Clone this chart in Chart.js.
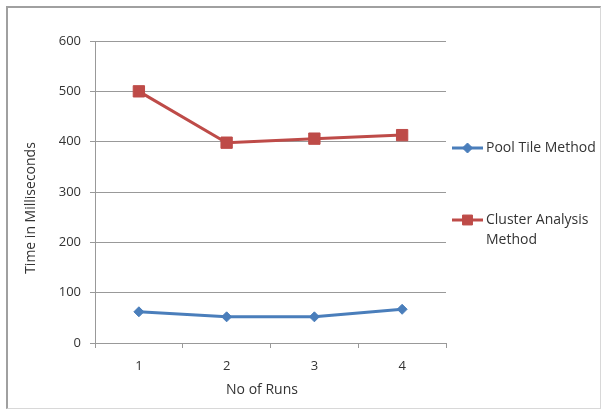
<!DOCTYPE html>
<html>
<head>
<meta charset="utf-8">
<script src="https://cdn.jsdelivr.net/npm/chart.js@4.4.1/dist/chart.umd.min.js"></script>
<style>
  body { margin: 0; background: #fff; }
  #wrap { position: relative; width: 606px; height: 409px; }
  #frame {
    position: absolute; left: 6px; top: 6px; width: 592px; height: 400px;
    border-top: 2px solid #a0a0a0; border-left: 2px solid #a0a0a0;
    border-right: 1px solid #d8d8d8; border-bottom: 1px solid #d8d8d8;
    pointer-events: none;
  }
</style>
</head>
<body>
<div id="wrap">
  <canvas id="runsChart" width="606" height="409"></canvas>
  <div id="frame"></div>
</div>
<script>
// data
const runLabels = ["1", "2", "3", "4"];
const poolTileMs = [62, 52, 52, 67];
const clusterMs = [500, 398, 406, 413];
const yTitle = "Time in Milliseconds";
const xTitle = "No of Runs";

const FONT = "'Open Sans', 'Liberation Sans', sans-serif";
const BLUE = "#4a7ebb";
const RED = "#be4b48";

// legend on the right + axis titles, drawn Excel-style
const sideStuff = {
  id: "sideStuff",
  afterDraw(chart) {
    const ctx = chart.ctx;
    ctx.save();
    ctx.fillStyle = "#333";
    ctx.font = "14px " + FONT;
    ctx.textAlign = "center";
    ctx.textBaseline = "middle";
    // y title
    ctx.save();
    ctx.translate(31, 208);
    ctx.rotate(-Math.PI / 2);
    ctx.fillText(yTitle, 0, 0);
    ctx.restore();
    // x title
    ctx.fillText(xTitle, 262, 390);

    // legend
    const items = [
      { ds: chart.data.datasets[0], y: 148, r: 5, lines: ["Pool Tile Method"] },
      { ds: chart.data.datasets[1], y: 220, r: 7, lines: ["Cluster Analysis", "Method"] },
    ];
    ctx.font = "14px " + FONT;
    ctx.textAlign = "left";
    items.forEach((it) => {
      ctx.strokeStyle = it.ds.borderColor;
      ctx.lineWidth = 3;
      ctx.beginPath();
      ctx.moveTo(452, it.y);
      ctx.lineTo(483, it.y);
      ctx.stroke();
      ctx.fillStyle = it.ds.backgroundColor;
      ctx.lineWidth = 1;
      Chart.helpers.drawPoint(ctx, {
        pointStyle: it.ds.pointStyle,
        radius: it.r,
        borderWidth: 1,
      }, 467.5, it.y);
      ctx.fillStyle = "#333";
      it.lines.forEach((t, i) => ctx.fillText(t, 486, it.y + i * 20));
    });
    ctx.restore();
  },
  beforeDraw(chart) {
    const ctx = chart.ctx;
    ctx.save();
    ctx.fillStyle = "#fff";
    ctx.fillRect(0, 0, chart.width, chart.height);
    ctx.restore();
  },
};

new Chart(document.getElementById("runsChart"), {
  type: "line",
  data: {
    labels: runLabels,
    datasets: [
      {
        label: "Pool Tile Method",
        data: poolTileMs,
        borderColor: BLUE,
        backgroundColor: BLUE,
        borderWidth: 3,
        pointStyle: "rectRot",
        pointRadius: 5,
        pointBorderWidth: 1,
        tension: 0,
      },
      {
        label: "Cluster Analysis Method",
        data: clusterMs,
        borderColor: RED,
        backgroundColor: RED,
        borderWidth: 3,
        pointStyle: "rect",
        pointRadius: 8,
        pointBorderWidth: 1,
        tension: 0,
      },
    ],
  },
  options: {
    responsive: false,
    animation: false,
    layout: { padding: { left: 0, top: 41, right: 160, bottom: 0 } },
    plugins: {
      legend: { display: false },
      tooltip: { enabled: false },
    },
    scales: {
      x: {
        offset: true,
        grid: {
          offset: true,
          drawOnChartArea: false,
          drawTicks: true,
          tickLength: 5,
          color: "#999",
        },
        border: { color: "#999", width: 1 },
        ticks: { color: "#333", font: { family: FONT, size: 13 }, padding: 10 },
        afterFit(s) { s.height = 409 - 343; },
      },
      y: {
        min: 0,
        max: 600,
        ticks: { stepSize: 100, color: "#333", font: { family: FONT, size: 13 }, padding: 9 },
        grid: { color: "#999", tickLength: 5 },
        border: { color: "#999", width: 1 },
        afterFit(s) { s.width = 95; },
      },
    },
  },
  plugins: [sideStuff],
});
</script>
</body>
</html>
